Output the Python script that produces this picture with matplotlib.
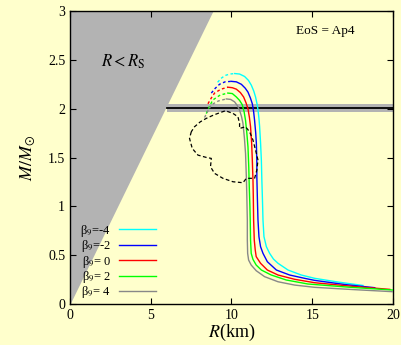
import numpy as np
import matplotlib
matplotlib.use("Agg")
import matplotlib.pyplot as plt

plt.rcParams['font.family'] = ['Liberation Serif', 'DejaVu Serif']
plt.rcParams['mathtext.fontset'] = 'stix'

# mass-radius curves, (R [km], M [Msun])
# dashed = branch left of the maximum mass, solid = the rest
labels = ['-4', '-2', ' 0', ' 2', ' 4']
colors = ['#00ffff', '#0000ff', '#ff0000', '#00ff00', '#888888']

R_dash = [
    [9.14, 9.35, 9.60, 9.90, 10.20],
    [8.75, 9.00, 9.26, 9.60, 9.99],
    [8.54, 8.75, 8.95, 9.35, 9.78],
    [8.44, 8.65, 8.85, 9.30, 9.78],
    [8.33, 8.55, 8.75, 9.20, 9.68],
]
M_dash = [
    [2.27, 2.31, 2.34, 2.355, 2.36],
    [2.16, 2.21, 2.25, 2.275, 2.28],
    [2.05, 2.11, 2.16, 2.20, 2.22],
    [1.95, 2.03, 2.09, 2.14, 2.16],
    [1.91, 1.98, 2.04, 2.08, 2.10],
]
R_solid = [
    [10.20, 10.50, 10.81, 11.05, 11.23, 11.38, 11.49, 11.58, 11.64, 11.70, 11.74, 11.80, 11.85,
     11.88, 11.92, 11.95, 12.01, 12.16, 12.36, 12.60, 12.88, 13.50, 14.32, 15.15, 16.60, 18.14],
    [9.99, 10.30, 10.61, 10.85, 11.02, 11.17, 11.29, 11.37, 11.43, 11.50, 11.54, 11.57, 11.57,
     11.60, 11.64, 11.70, 11.80, 11.95, 12.22, 12.78, 13.60, 14.53, 15.15, 17.00, 18.87],
    [9.78, 10.05, 10.30, 10.55, 10.75, 10.90, 11.02, 11.11, 11.18, 11.25, 11.29, 11.33, 11.35,
     11.37, 11.41, 11.47, 11.53, 11.80, 12.22, 12.88, 13.91, 15.15, 17.50, 19.80],
    [9.78, 10.05, 10.30, 10.50, 10.67, 10.78, 10.87, 10.95, 11.02, 11.07, 11.10, 11.14, 11.16,
     11.18, 11.22, 11.33, 11.53, 11.85, 12.46, 13.39, 14.73, 17.30, 20.00],
    [9.68, 9.95, 10.19, 10.37, 10.50, 10.62, 10.71, 10.80, 10.87, 10.92, 10.95, 10.98, 10.98,
     11.00, 11.06, 11.22, 11.53, 12.05, 12.88, 13.91, 15.15, 17.50, 20.00],
]
M_solid = [
    [2.36, 2.355, 2.33, 2.29, 2.24, 2.18, 2.12, 2.05, 1.99, 1.90, 1.82, 1.65, 1.47,
     1.27, 1.05, 0.86, 0.69, 0.587, 0.519, 0.46, 0.417, 0.348, 0.297, 0.263, 0.225, 0.19],
    [2.28, 2.275, 2.25, 2.21, 2.17, 2.11, 2.05, 1.97, 1.88, 1.75, 1.645, 1.45, 1.30,
     1.10, 0.86, 0.689, 0.587, 0.519, 0.433, 0.348, 0.297, 0.263, 0.242, 0.200, 0.167],
    [2.22, 2.215, 2.20, 2.165, 2.12, 2.06, 2.00, 1.91, 1.815, 1.64, 1.47, 1.27, 1.10,
     0.86, 0.655, 0.553, 0.485, 0.417, 0.348, 0.297, 0.253, 0.218, 0.181, 0.15],
    [2.16, 2.155, 2.12, 2.085, 2.04, 1.97, 1.88, 1.75, 1.61, 1.40, 1.20, 1.00, 0.86,
     0.655, 0.519, 0.457, 0.399, 0.348, 0.297, 0.246, 0.205, 0.172, 0.143],
    [2.10, 2.095, 2.07, 2.03, 1.985, 1.92, 1.85, 1.70, 1.54, 1.30, 1.10, 0.86, 0.655,
     0.519, 0.45, 0.399, 0.341, 0.28, 0.228, 0.194, 0.171, 0.148, 0.126],
]

# dashed credible-region contour
R_cont = [7.51, 7.40, 7.57, 7.92, 8.44, 8.75, 8.70, 8.95, 9.47, 10.09, 10.71, 10.92, 11.43, 11.57,
          11.64, 11.49, 11.33, 11.12, 10.87, 10.50, 10.50, 10.40, 10.09, 9.63, 9.26, 8.89, 8.44,
          8.07, 7.71, 7.51]
M_cont = [1.764, 1.696, 1.593, 1.525, 1.501, 1.491, 1.405, 1.338, 1.287, 1.252, 1.242, 1.287, 1.287,
          1.372, 1.474, 1.576, 1.679, 1.764, 1.815, 1.798, 1.850, 1.917, 1.952, 1.979, 1.958, 1.935,
          1.901, 1.866, 1.815, 1.764]

M_obs, dM_obs = 2.01, 0.04
R_s_per_Msun = 2.95

bg = '#ffffcc'
fig = plt.figure(figsize=(4.01, 3.45), dpi=100, facecolor=bg)
ax = fig.add_axes([0.1746, 0.1188, 0.8054, 0.8492], facecolor=bg)

m = np.array([0.0, 3.0])
ax.fill_betweenx(m, 0, R_s_per_Msun * m, color='#b3b3b3', lw=0, zorder=1)
ax.fill_between([6, 20], M_obs - dM_obs, M_obs + dM_obs, color='#b3b3b3', lw=0, zorder=1)
ax.plot([6, 20], [M_obs, M_obs], color='k', lw=1.3, zorder=2)

for i in range(len(labels)):
    ax.plot(R_dash[i], M_dash[i], color=colors[i], lw=1.0, ls=(0, (2.0, 1.8)), zorder=3)
    ax.plot(R_solid[i], M_solid[i], color=colors[i], lw=1.0, zorder=3,
            label='β$_9$=' + labels[i])

ax.plot(R_cont, M_cont, color='k', lw=0.9, ls=(0, (3, 2)), zorder=4)

ax.text(3.3, 2.48, r'$R < R_{\rm S}$', fontsize=12, ha='center', va='center')
ax.text(15.8, 2.8, 'EoS = Ap4', fontsize=9.5, ha='center', va='center')

ax.set_xlim(0, 20)
ax.set_ylim(0, 3)
ax.set_xticks([0, 5, 10, 15, 20])
ax.set_yticks([0, 0.5, 1, 1.5, 2, 2.5, 3])
ax.set_yticklabels(['0', '0.5', '1', '1.5', '2', '2.5', '3'])
ax.tick_params(direction='in', length=4, width=0.8, top=True, right=True, labelsize=10)
for s in ax.spines.values():
    s.set_linewidth(1.0)
ax.set_xlabel(r'$R$(km)', fontsize=13, labelpad=0)
ax.set_ylabel(r'$M/M_{\odot}$', fontsize=13, labelpad=8)

ax.legend(loc='lower left', markerfirst=False, frameon=False, fontsize=9,
          handlelength=3.0, handletextpad=0.6, labelspacing=-0.05,
          borderaxespad=0.0, borderpad=0.3, bbox_to_anchor=(0.02, 0.0))

fig.savefig('out.png', dpi=100, facecolor=bg)
